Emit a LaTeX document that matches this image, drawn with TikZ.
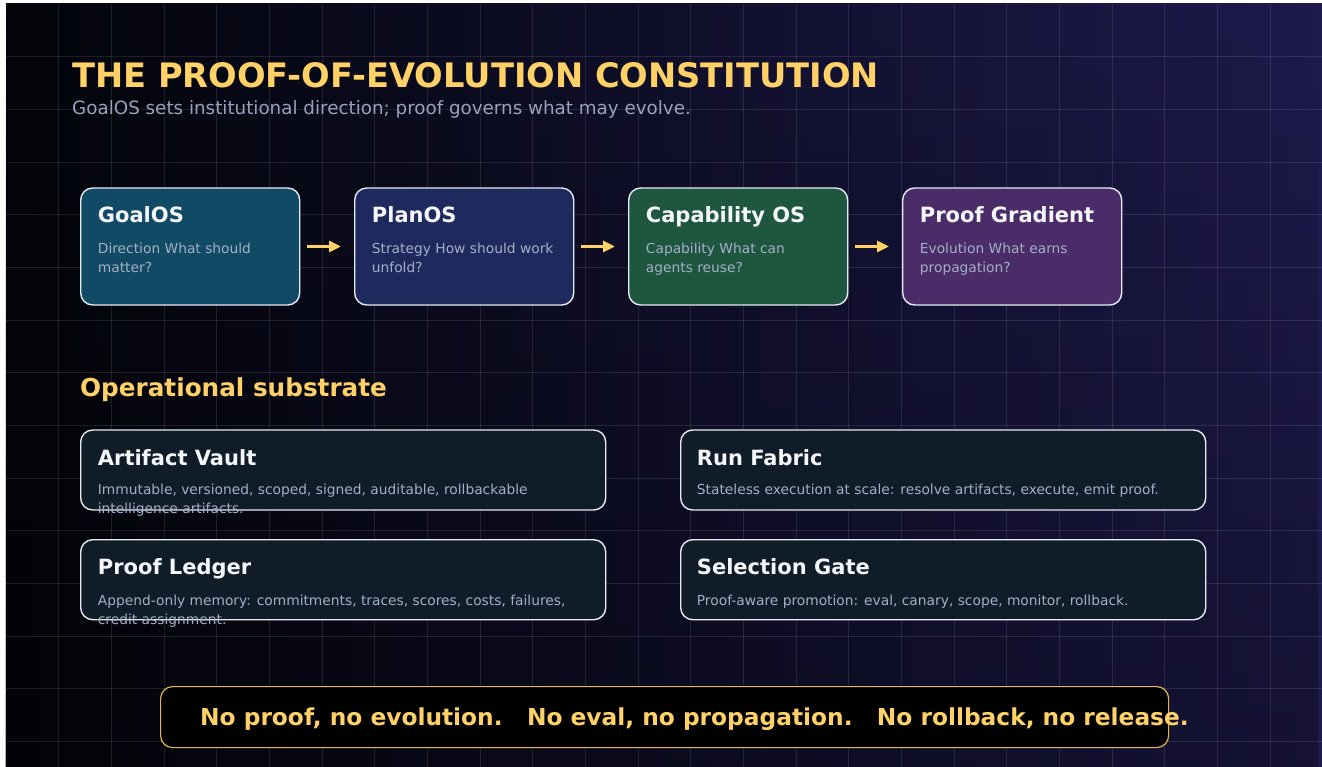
\documentclass[tikz,border=0pt]{standalone}
\usepackage{fontspec}
\setmainfont{DejaVu Sans}
\usetikzlibrary{arrows.meta,fadings,calc}

\definecolor{bgL}{HTML}{03050A}
\definecolor{bgM}{HTML}{0D0C26}
\definecolor{bgR}{HTML}{1E1A4C}
\definecolor{gold}{HTML}{FFD166}
\definecolor{goldline}{HTML}{E6B450}
\definecolor{subtxt}{HTML}{98A2BC}
\definecolor{desctxt}{HTML}{A3AFC6}
\definecolor{titletxt}{HTML}{F4F6FA}
\definecolor{goalfill}{HTML}{114A64}
\definecolor{planfill}{HTML}{1E2A5E}
\definecolor{capfill}{HTML}{1F5640}
\definecolor{prooffill}{HTML}{4A2C68}
\definecolor{subfill}{HTML}{101C28}
\definecolor{edge}{HTML}{E6EBF2}

\newcommand\fsz[2]{\fontsize{#1}{#2}\selectfont}

\begin{document}
\begin{tikzpicture}[x=1pt,y=-1pt,
  card/.style={draw=edge, line width=1.4pt, rounded corners=12pt, inner sep=0pt, anchor=north west},
  stage/.style={card, minimum width=219pt, minimum height=117pt},
  layer/.style={card, fill=subfill, minimum width=525pt, minimum height=80pt},
  cardtitle/.style={anchor=base west, inner sep=0pt, text=titletxt, font=\bfseries\fsz{21}{25}},
  carddesc/.style={anchor=base west, inner sep=0pt, text=desctxt, font=\fsz{13.8}{19}, align=left},
  % a two-line block sits on its last baseline, so drop it one line
  carddesctwo/.style={carddesc, yshift=-19pt},
  flow/.style={draw=gold, line width=3pt, -{Triangle[length=12pt,width=11pt]}, shorten <=7pt, shorten >=13pt},
  gridline/.style={draw=white, draw opacity=0.10, line width=1pt},
]
\useasboundingbox (0,0) rectangle (1322,767);
\fill[white] (0,0) rectangle (1322,767);

% backdrop: dark-to-indigo wash with a faint grid
\fill[left color=bgL, middle color=bgM, right color=bgR] (6,4) rectangle (1322,767);
\fill[black, opacity=0.3, path fading=north] (6,4) rectangle (1322,767);
\foreach \i in {1,...,24} \draw[gridline] ({6+52.67*\i},4) -- ({6+52.67*\i},767);
\foreach \j in {1,...,14} \draw[gridline] (6,{4+52.67*\j}) -- (1322,{4+52.67*\j});

% heading
\node[anchor=base west, inner sep=0pt, text=gold, font=\bfseries\fsz{33.67}{40}] (title) at (72,87.3) {THE PROOF-OF-EVOLUTION CONSTITUTION};
\node[anchor=base west, inner sep=0pt, text=subtxt, font=\fsz{18.3}{22}] (subtitle) at (72,115) {GoalOS sets institutional direction; proof governs what may evolve.};

% governance stages
\node[stage, fill=goalfill]  (goal)  at (80,187.3) {};
\node[stage, fill=planfill]  (plan)  at (354,187.3) {};
\node[stage, fill=capfill]   (cap)   at (628,187.3) {};
\node[stage, fill=prooffill] (grad)  at (902,187.3) {};

\node[cardtitle]   (goalT) at ($(goal.north west)+(17.7,35.4)$) {GoalOS};
\node[carddesctwo] (goalD) at ($(goal.north west)+(17.7,66)$) {Direction What should\\matter?};
\node[cardtitle]   (planT) at ($(plan.north west)+(17.7,35.4)$) {PlanOS};
\node[carddesctwo] (planD) at ($(plan.north west)+(17.7,66)$) {Strategy How should work\\unfold?};
\node[cardtitle]   (capT)  at ($(cap.north west)+(17.7,35.4)$) {Capability OS};
\node[carddesctwo] (capD)  at ($(cap.north west)+(17.7,66)$) {Capability What can\\agents reuse?};
\node[cardtitle]   (gradT) at ($(grad.north west)+(17.7,35.4)$) {Proof Gradient};
\node[carddesctwo] (gradD) at ($(grad.north west)+(17.7,66)$) {Evolution What earns\\propagation?};

\draw[flow] (goal.east) -- (plan.west);
\draw[flow] (plan.east) -- (cap.west);
\draw[flow] (cap.east) -- (grad.west);

% operational substrate
\node[anchor=base west, inner sep=0pt, text=gold, font=\bfseries\fsz{24.7}{29}] (opsub) at (80,396.7) {Operational substrate};

\node[layer] (vault)  at (80,429.3) {};
\node[layer] (fabric) at (680,429.3) {};
\node[layer] (ledger) at (80,539) {};
\node[layer] (gate)   at (680,539) {};

\node[cardtitle]   (vaultT)  at ($(vault.north west)+(17.7,35.7)$) {Artifact Vault};
\node[carddesctwo] (vaultD)  at ($(vault.north west)+(17.7,65)$) {Immutable, versioned, scoped, signed, auditable, rollbackable\\intelligence artifacts.};
\node[cardtitle]   (fabricT) at ($(fabric.north west)+(16.7,35.7)$) {Run Fabric};
\node[carddesc]    (fabricD) at ($(fabric.north west)+(16.7,65)$) {Stateless execution at scale: resolve artifacts, execute, emit proof.};
\node[cardtitle]   (ledgerT) at ($(ledger.north west)+(17.7,35.3)$) {Proof Ledger};
\node[carddesctwo] (ledgerD) at ($(ledger.north west)+(17.7,66)$) {Append-only memory: commitments, traces, scores, costs, failures,\\credit assignment.};
\node[cardtitle]   (gateT)   at ($(gate.north west)+(16.7,35.3)$) {Selection Gate};
\node[carddesc]    (gateD)   at ($(gate.north west)+(16.7,66)$) {Proof-aware promotion: eval, canary, scope, monitor, rollback.};

% closing maxims
\node[draw=goldline, fill=black, line width=1.2pt, rounded corners=12pt, inner sep=0pt, anchor=north west,
      minimum width=1008pt, minimum height=61pt] (banner) at (160,686) {};
\node[anchor=base west, inner sep=0pt, text=gold, font=\bfseries\fsz{23.3}{27}] (maxims) at ($(banner.north west)+(40,39)$)
  {No proof, no evolution.\ \ \ No eval, no propagation.\ \ \ No rollback, no release.};
\end{tikzpicture}
\end{document}
